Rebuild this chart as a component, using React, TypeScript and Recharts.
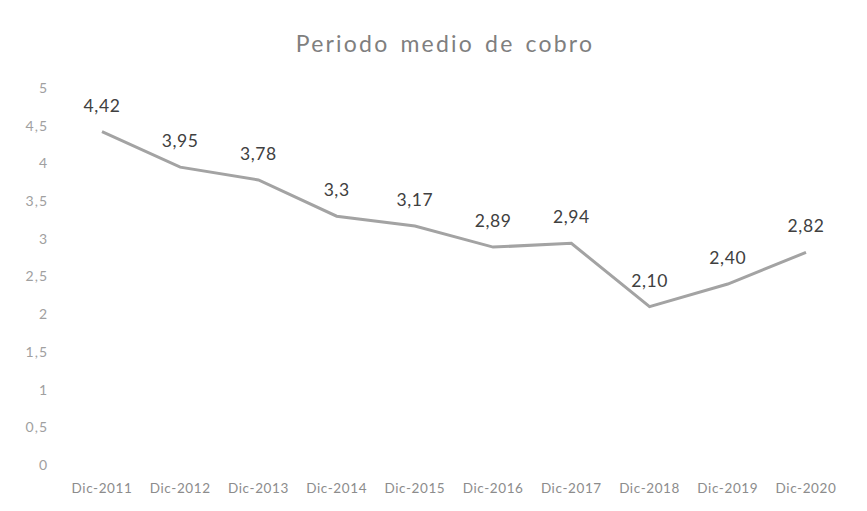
import { LineChart, Line, XAxis, YAxis, LabelList } from 'recharts';

const periods = ['Dic-2011', 'Dic-2012', 'Dic-2013', 'Dic-2014', 'Dic-2015', 'Dic-2016', 'Dic-2017', 'Dic-2018', 'Dic-2019', 'Dic-2020'];
const daysValues = [4.42, 3.95, 3.78, 3.3, 3.17, 2.89, 2.94, 2.1, 2.4, 2.82];
const valueLabels = ['4,42', '3,95', '3,78', '3,3', '3,17', '2,89', '2,94', '2,10', '2,40', '2,82'];
const yTicks = [0, 0.5, 1, 1.5, 2, 2.5, 3, 3.5, 4, 4.5, 5];

const data = periods.map((p, i) => ({ period: p, value: daysValues[i], label: valueLabels[i] }));

const font = 'Lato, "Open Sans", sans-serif';

export default function App() {
  return (
    <div style={{ position: 'absolute', left: 0, top: 0, width: 867, height: 511, background: '#fff', fontFamily: font }}>
      <div
        style={{
          position: 'absolute',
          top: 29,
          left: 0,
          width: 890,
          textAlign: 'center',
          fontSize: 23,
          color: '#7f7f7f',
          letterSpacing: 2.2,
          wordSpacing: 3,
        }}
      >
        Periodo medio de cobro
      </div>
      <LineChart width={867} height={511} data={data} margin={{ top: 88, right: 22, left: 0, bottom: 16 }}>
        <XAxis
          dataKey="period"
          axisLine={false}
          tickLine={false}
          tickSize={0}
          tickMargin={18}
          height={30}
          interval={0}
          padding={{ left: 39, right: 39 }}
          tick={{ fill: '#8c8c8c', fontSize: 13.5, fontFamily: font, letterSpacing: 0.6 }}
        />
        <YAxis
          domain={[0, 5]}
          ticks={yTicks}
          axisLine={false}
          tickLine={false}
          tickSize={0}
          tickMargin={15}
          width={63}
          tickFormatter={(v: number) => String(v).replace('.', ',')}
          tick={{ fill: '#a0a0a0', fontSize: 14, fontFamily: font, letterSpacing: 1 }}
        />
        <Line
          type="linear"
          dataKey="value"
          stroke="#a3a3a3"
          strokeWidth={3}
          dot={false}
          isAnimationActive={false}
        >
          <LabelList
            dataKey="label"
            position="top"
            offset={20}
            fill="#404040"
            fontSize={17.5}
            fontFamily={font}
            letterSpacing={0.6}
          />
        </Line>
      </LineChart>
    </div>
  );
}
